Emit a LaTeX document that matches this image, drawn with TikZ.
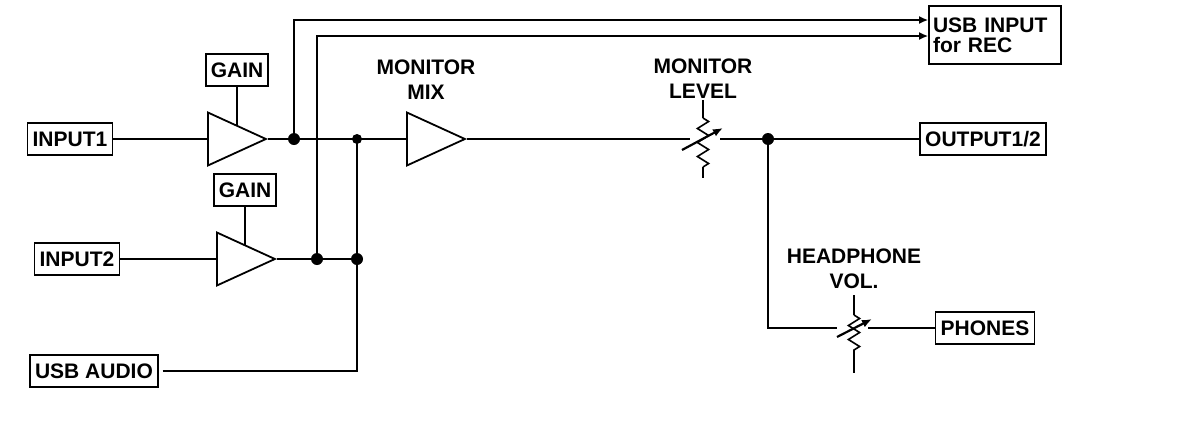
\documentclass[tikz,border=0pt]{standalone}
\usepackage{fontspec}
\setmainfont{Liberation Sans}
\usetikzlibrary{arrows.meta,positioning,calc,shapes.geometric,decorations.pathmorphing}

\begin{document}
\begin{tikzpicture}[x=0.5pt,y=-0.5pt,line width=1.1pt,
        font=\bfseries\fontsize{10.5}{12.5}\selectfont]
        \tikzset{
            box/.style={draw, line width=0.8pt, inner xsep=2.5pt, inner ysep=0pt,
                minimum height=16pt, text height=7.6pt, text depth=0pt},
            recbox/.style={draw, line width=0.8pt, align=left, text width=62pt,
                inner xsep=2pt, minimum height=29pt,
                font=\bfseries\fontsize{10.5}{10}\selectfont},
            amp/.style={draw, line width=0.9pt, isosceles triangle, isosceles triangle stretches,
                minimum width=26.5pt, minimum height=29pt, inner sep=0pt, anchor=west},
            dot/.style={circle, fill, inner sep=0pt, minimum size=6pt},
            resist/.style={line width=0.8pt, decorate,
                decoration={zigzag, segment length=7pt, amplitude=2.8pt}},
            recarrow/.style={-{Latex[length=4.5pt,width=4pt]}},
            wiper/.style={-{Latex[length=5pt,width=4pt]}},
            lbl/.style={align=center}
        }
        \useasboundingbox (0,0) rectangle (1200,429);
        % sources
        \node[box] (in1) at (70,139) {INPUT1};
        \node[box] (in2) at (77,259) {INPUT2};
        \node[box] (usbaudio) at (94,371) {USB AUDIO};
        % gain stages
        \node[amp] (amp1) at (207,139) {};
        \node[amp] (amp2) at (216,259) {};
        \node[box] (gain1) at (237,70) {GAIN};
        \node[box] (gain2) at (245,190) {GAIN};
        \draw (gain1.south) -- (gain1.south |- amp1.left side);
        \draw (gain2.south) -- (gain2.south |- amp2.left side);
        % monitor mix
        \node[amp] (mix) at (406,139) {};
        \node[lbl] (mixlabel) at (426,80) {MONITOR\\MIX};
        \node[dot] (j1) at (294,139) {};
        \node[dot] (j2) at (317,259) {};
        \node[dot, minimum size=5pt] (j3) at (357,139) {};
        \node[dot] (j4) at (357,259) {};
        \draw (in1) -- (amp1.west);
        \draw (amp1.apex) -- (mix.west);
        \draw (in2) -- (amp2.west);
        \draw (amp2.apex) -- (j4.center);
        \draw[shorten <=2pt] (usbaudio.east) -| (j3.center);
        % record path
        \node[recbox] (usbrec) at (995,35) {USB INPUT\\for REC};
        \draw[recarrow] (j1.center) |- ([yshift=7.5pt]usbrec.west);
        \draw[recarrow] (j2.center) |- ([yshift=-0.5pt]usbrec.west);
        % monitor level
        \coordinate (pot1) at (703,139);
        \node[lbl] (levellabel) at (703,79) {MONITOR\\LEVEL};
        \draw (mix.apex) -- ($(pot1)+(-13,0)$);
        \draw[line width=0.8pt] ($(pot1)+(0,-39)$) -- ($(pot1)+(0,-21)$);
        \draw[resist] ($(pot1)+(0,-21)$) -- ($(pot1)+(0,28)$);
        \draw[line width=0.8pt] ($(pot1)+(0,28)$) -- ($(pot1)+(0,39)$);
        \draw[wiper] ($(pot1)+(-21,11)$) -- ($(pot1)+(20,-11)$);
        \node[dot] (j5) at (768,139) {};
        \node[box] (out12) at (983,139) {OUTPUT1/2};
        \draw ($(pot1)+(17,0)$) -- (out12.west);
        % headphone volume
        \coordinate (pot2) at (854,328);
        \node[lbl] (hplabel) at (854,269) {HEADPHONE\\VOL.};
        \node[box] (phones) at (985,328) {PHONES};
        \draw (j5.center) |- ($(pot2)+(-17,0)$);
        \draw ($(pot2)+(14,0)$) -- (phones.west);
        \draw[line width=0.8pt] ($(pot2)+(0,-33)$) -- ($(pot2)+(0,-13)$);
        \draw[resist] ($(pot2)+(0,-13)$) -- ($(pot2)+(0,25)$);
        \draw[line width=0.8pt] ($(pot2)+(0,25)$) -- ($(pot2)+(0,45)$);
        \draw[wiper] ($(pot2)+(-17,9)$) -- ($(pot2)+(18,-9)$);
\end{tikzpicture}
\end{document}
